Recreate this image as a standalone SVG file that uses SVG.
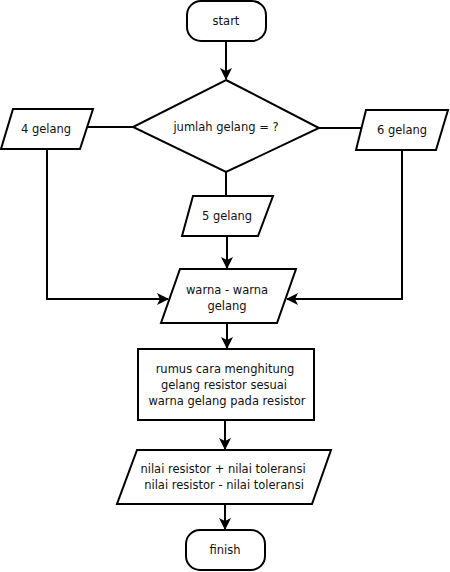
<svg xmlns="http://www.w3.org/2000/svg" width="450" height="572" viewBox="0 0 450 572">
<style>
.s{fill:#fff;stroke:#000;stroke-width:2}
.c{fill:none;stroke:#000;stroke-width:2}
text{font-family:"DejaVu Sans",sans-serif;font-size:11.5px;fill:#111;text-anchor:middle;dominant-baseline:central}
</style>
<defs>
<marker id="a" markerWidth="12" markerHeight="12" refX="11" refY="6" orient="auto" markerUnits="userSpaceOnUse">
<path d="M0,0 L12,6 L0,12 L3,6 Z" fill="#000"/>
</marker>
</defs>
<rect width="450" height="572" fill="#fff"/>
<g id="connectors">
<path class="c" d="M226,41 V79" marker-end="url(#a)"/>
<path class="c" d="M88,127 H133"/>
<path class="c" d="M319,128 H363"/>
<path class="c" d="M226,172 V196"/>
<path class="c" d="M47,149 V299 H168" marker-end="url(#a)"/>
<path class="c" d="M402,150 V299 H287" marker-end="url(#a)"/>
<path class="c" d="M227,236 V268" marker-end="url(#a)"/>
<path class="c" d="M227,323 V348" marker-end="url(#a)"/>
<path class="c" d="M225,420 V449" marker-end="url(#a)"/>
<path class="c" d="M225,504 V529" marker-end="url(#a)"/>
</g>
<g id="start">
<rect class="s" x="187" y="1" width="79" height="40" rx="14"/>
<text x="226" y="21">start</text>
</g>
<g id="decision">
<polygon class="s" points="226,80 319,128 226,172 133,127"/>
<text x="226" y="127">jumlah gelang = ?</text>
</g>
<g id="g4">
<polygon class="s" points="13,109 93,109 80,149 1,149"/>
<text x="46" y="129">4 gelang</text>
</g>
<g id="g6">
<polygon class="s" points="366,110 448,110 436,150 356,150"/>
<text x="402" y="130">6 gelang</text>
</g>
<g id="g5">
<polygon class="s" points="193,196 273,196 258,236 182,236"/>
<text x="227" y="216">5 gelang</text>
</g>
<g id="warna">
<polygon class="s" points="180,269 296,269 277,323 161,323"/>
<text x="227" y="290">warna - warna</text>
<text x="227" y="306">gelang</text>
</g>
<g id="rumus">
<rect class="s" x="138" y="349" width="176" height="71"/>
<text x="225" y="369">rumus cara menghitung</text>
<text x="224" y="385">gelang resistor sesuai</text>
<text x="227" y="401">warna gelang pada resistor</text>
</g>
<g id="output">
<polygon class="s" points="137,450 331,450 312,504 117,504"/>
<text x="223" y="469">nilai resistor + nilai toleransi</text>
<text x="224" y="485">nilai resistor - nilai toleransi</text>
</g>
<g id="finish">
<rect class="s" x="186" y="530" width="79" height="40" rx="14"/>
<text x="225" y="550">finish</text>
</g>
</svg>
